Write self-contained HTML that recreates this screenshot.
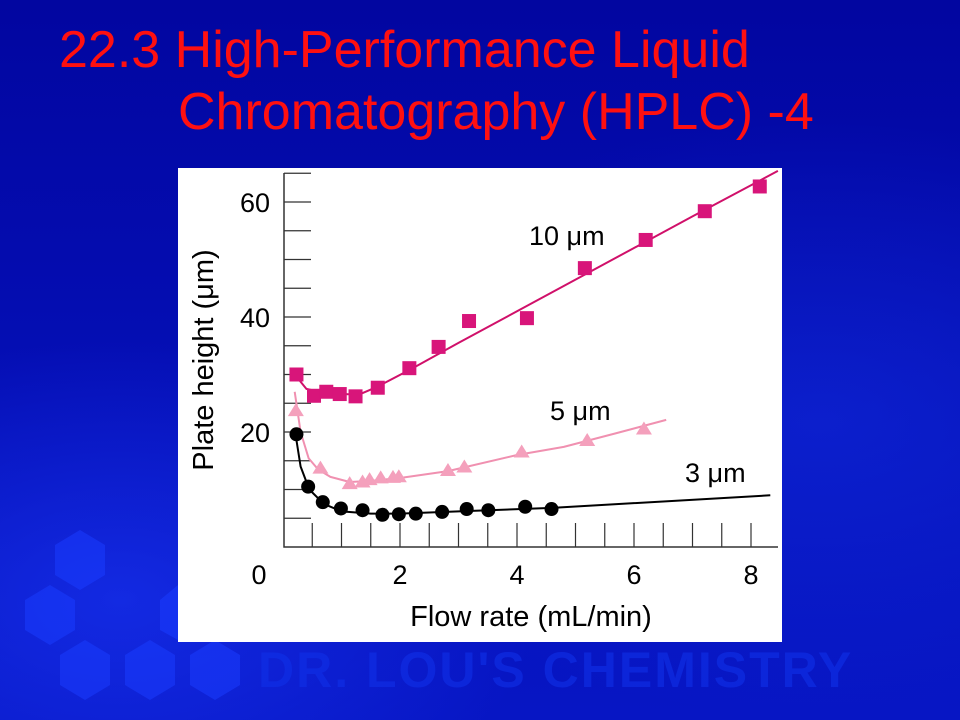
<!DOCTYPE html>
<html><head><meta charset="utf-8"><style>
html,body{margin:0;padding:0}
body{width:960px;height:720px;overflow:hidden;position:relative;background:#0208a0;font-family:"Liberation Sans",sans-serif}
.bg{position:absolute;left:0;top:0;width:960px;height:720px;background:
radial-gradient(ellipse 420px 260px at 120px 600px,rgba(30,60,255,.55),rgba(0,0,0,0)),
radial-gradient(ellipse 500px 300px at 820px 420px,rgba(20,50,230,.45),rgba(0,0,0,0)),
linear-gradient(180deg,#0206a0 0%,#0510b8 60%,#0716c4 100%)}
.title{position:absolute;color:#ff1010;font-size:52px;line-height:1;white-space:nowrap}
</style></head><body>
<div class="bg"></div>
<svg width="960" height="720" style="position:absolute;left:0;top:0">
<g fill="#1a3cff" opacity="0.55">
<polygon points="80,530 105,545 105,575 80,590 55,575 55,545"/>
<polygon points="50,585 75,600 75,630 50,645 25,630 25,600"/>
<polygon points="85,640 110,655 110,685 85,700 60,685 60,655"/>
<polygon points="150,640 175,655 175,685 150,700 125,685 125,655"/>
<polygon points="215,640 240,655 240,685 215,700 190,685 190,655"/>
<polygon points="178,585 178,640 160,630 160,600"/>
</g></svg>
<div class="title" style="left:59px;top:24px">22.3 High-Performance Liquid</div>
<div class="title" style="left:178px;top:86px">Chromatography (HPLC) -4</div>
<div style="position:absolute;left:258px;top:641px;font-size:50px;font-weight:bold;color:#1030e8;opacity:.6;letter-spacing:2px">DR. LOU'S CHEMISTRY</div>
<svg id="chart" width="960" height="720" style="position:absolute;left:0;top:0">
<rect x="178" y="168" width="604" height="474" fill="#fff"/>
<g id="axes"></g><g id="marks"></g>
</svg>
<script>
const xTicks=[0,2,4,6,8];
const yTicks=[20,40,60];
const sq10x=[0.23,0.53,0.74,0.97,1.24,1.62,2.16,2.66,3.18,4.17,5.16,6.2,7.21,8.15];
const sq10y=[30.0,26.3,27.0,26.6,26.2,27.7,31.1,34.8,39.3,39.8,48.5,53.4,58.4,62.7];
const fit10x=[0.2,0.4,0.7,1.0,1.3,1.6,2.2,3,4,5,6,7,8.46];
const fit10y=[30,27.5,26.8,26.6,26.5,27.8,31,35.5,41,46.5,52,57.5,65.4];
const tri5x=[0.22,0.64,1.14,1.36,1.48,1.67,1.88,1.98,2.82,3.1,4.08,5.2,6.17];
const tri5y=[23.8,13.8,11.1,11.4,11.8,12.1,12.2,12.3,13.4,14.0,16.6,18.6,20.6];
const fit5x=[0.2,0.3,0.44,0.6,0.81,1.14,1.5,2.0,2.82,4.0,4.8,5.7,6.55];
const fit5y=[27,20,15.4,13.5,12.2,11.3,11.5,12.0,13.2,16.0,17.4,19.8,22.1];
const dot3x=[0.23,0.43,0.68,0.99,1.36,1.70,1.98,2.27,2.72,3.14,3.51,4.14,4.59];
const dot3y=[19.6,10.5,7.8,6.7,6.4,5.6,5.7,5.8,6.1,6.6,6.4,7.0,6.6];
const fit3x=[0.2,0.3,0.45,0.7,1.0,1.5,2.0,3,4.6,8.33];
const fit3y=[20.5,14,10,7.5,6.2,5.8,5.8,6.2,6.8,9.0];
const X=v=>283+v*58.5, Y=v=>547-v*5.75;
const NS='http://www.w3.org/2000/svg';
const axes=document.getElementById('axes'), marks=document.getElementById('marks');
function mk(tag,at,parent){const e=document.createElementNS(NS,tag);for(const k in at)e.setAttribute(k,at[k]);parent.appendChild(e);return e;}
let e;
e=mk('path',{d:`M284 173 V547 H778`,stroke:'#333',fill:'none','stroke-width':1.5},axes);


for(let v=0.5;v<=8.46;v+=0.5){e=mk('line',{x1:X(v),x2:X(v),y1:547,y2:523,stroke:'#333','stroke-width':1.2},axes);

}
for(let v=5;v<=65;v+=5){e=mk('line',{x1:284,x2:311,y1:Y(v),y2:Y(v),stroke:'#333','stroke-width':1.2},axes);

}
xTicks.forEach(v=>{e=mk('text',{x:v===0?259:X(v),y:584,'text-anchor':'middle','font-size':27,fill:'#000'},axes);e.textContent=v;

});
yTicks.forEach(v=>{e=mk('text',{x:270,y:Y(v)+10,'text-anchor':'end','font-size':27,fill:'#000'},axes);e.textContent=v;

});
e=mk('text',{x:531,y:626,'text-anchor':'middle','font-size':29,fill:'#000'},axes);e.textContent='Flow rate (mL/min)';


e=mk('text',{x:213,y:360,'text-anchor':'middle','font-size':29,fill:'#000',transform:'rotate(-90 213 360)'},axes);e.textContent='Plate height (μm)';


function line(xs,ys,c,name){const p=xs.map((x,i)=>(i?'L':'M')+X(x).toFixed(1)+' '+Y(ys[i]).toFixed(1)).join(' ');
e=mk('path',{d:p,stroke:c,fill:'none','stroke-width':2,'stroke-linejoin':'round'},marks);

}
line(fit10x,fit10y,'#d0106a','fit-line-10um');
line(fit5x,fit5y,'#f090b0','fit-line-5um');
line(fit3x,fit3y,'#000','fit-line-3um');
sq10x.forEach((x,i)=>{e=mk('rect',{x:X(x)-7,y:Y(sq10y[i])-7,width:14,height:14,fill:'#d8157a'},marks);

});
tri5x.forEach((x,i)=>{const cx=X(x),cy=Y(tri5y[i]);e=mk('polygon',{points:`${cx},${cy-7} ${cx-8},${cy+6} ${cx+8},${cy+6}`,fill:'#f4a0bc'},marks);

});
dot3x.forEach((x,i)=>{e=mk('circle',{cx:X(x),cy:Y(dot3y[i]),r:7,fill:'#000'},marks);

});
[['10 μm',529,245,'label-10um'],['5 μm',550,420,'label-5um'],['3 μm',685,482,'label-3um']].forEach(l=>{
e=mk('text',{x:l[1],y:l[2],'font-size':27,fill:'#000'},marks);e.textContent=l[0];

});
</script>
</body></html>
